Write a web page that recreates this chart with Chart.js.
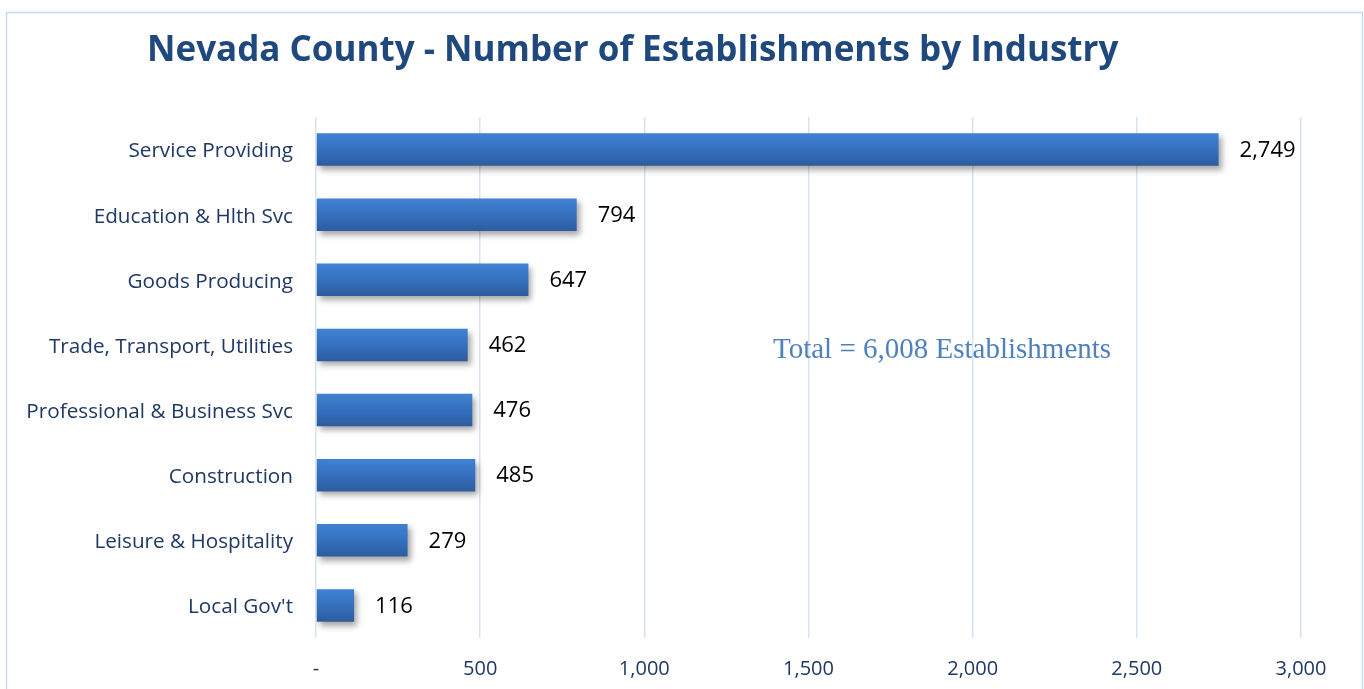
<!DOCTYPE html>
<html lang="en">
<head>
  <meta charset="UTF-8" />
  <title>Nevada County - Number of Establishments by Industry</title>
  <script src="https://cdn.jsdelivr.net/npm/chart.js"></script>
  <style>
    html, body { margin: 0; padding: 0; background: #fff; }
    #wrap { width: 1364px; height: 689px; position: relative; }
  </style>
</head>
<body>
  <div id="wrap"><canvas id="estChart" width="1364" height="689"></canvas></div>

  <script>
    // data
    const industries = [
      "Service Providing",
      "Education & Hlth Svc",
      "Goods Producing",
      "Trade, Transport, Utilities",
      "Professional & Business Svc",
      "Construction",
      "Leisure & Hospitality",
      "Local Gov't"
    ];
    const establishments = [2749, 794, 647, 462, 476, 485, 279, 116];
    const xTicks = [0, 500, 1000, 1500, 2000, 2500, 3000];

    const titleText = "Nevada County - Number of Establishments by Industry";
    const noteText = "Total = 6,008 Establishments";

    const ctx = document.getElementById("estChart").getContext("2d");

    // frame, title and note
    const decorPlugin = {
      id: "decor",
      beforeDraw(chart) {
        const c = chart.ctx;
        c.save();
        c.fillStyle = "#fff";
        c.fillRect(0, 0, chart.width, chart.height);
        c.strokeStyle = "#c9daf0";
        c.lineWidth = 1.5;
        c.strokeRect(6.5, 12.5, 1356, 700);
        c.restore();
      },
      afterDraw(chart) {
        const c = chart.ctx;
        c.save();
        c.fillStyle = "#1f497d";
        c.font = "bold 35px 'Open Sans'";
        c.textBaseline = "alphabetic";
        c.textAlign = "left";
        c.fillText(titleText, 147, 61);

        c.fillStyle = "#4f81bd";
        c.font = "29px 'Liberation Serif'";
        c.fillText(noteText, 773, 358);
        c.restore();
      }
    };

    // bar shadows
    const shadowPlugin = {
      id: "barShadow",
      beforeDatasetsDraw(chart) {
        const c = chart.ctx;
        c.save();
        c.shadowColor = "rgba(0,0,0,0.35)";
        c.shadowBlur = 6;
        c.shadowOffsetX = 3;
        c.shadowOffsetY = 4;
      },
      afterDatasetsDraw(chart) {
        chart.ctx.restore();
      }
    };

    // value labels at the end of each bar
    const valueLabels = {
      id: "valueLabels",
      afterDatasetsDraw(chart) {
        const c = chart.ctx;
        const meta = chart.getDatasetMeta(0);
        c.save();
        c.fillStyle = "#000";
        c.font = "22px 'Open Sans'";
        c.textAlign = "left";
        c.textBaseline = "middle";
        meta.data.forEach((bar, i) => {
          c.fillText(establishments[i].toLocaleString("en-US"), bar.x + 21, bar.y + 1);
        });
        c.restore();
      }
    };

    function barGradient(context) {
      const chart = context.chart;
      const area = chart.chartArea;
      const yScale = chart.scales.y;
      if (!area || !yScale) return "#3670bd";
      const y = yScale.getPixelForValue(context.dataIndex);
      const h = (area.bottom - area.top) / industries.length * 0.5;
      if (!Number.isFinite(y) || !Number.isFinite(h) || h <= 0) return "#3670bd";
      const g = chart.ctx.createLinearGradient(0, y - h / 2, 0, y + h / 2);
      g.addColorStop(0, "#4082d4");
      g.addColorStop(0.5, "#3570bf");
      g.addColorStop(1, "#2c5c9e");
      return g;
    }

    new Chart(ctx, {
      type: "bar",
      data: {
        labels: industries,
        datasets: [{
          data: establishments,
          backgroundColor: barGradient,
          borderWidth: 0,
          barPercentage: 0.5,
          categoryPercentage: 1
        }]
      },
      options: {
        indexAxis: "y",
        responsive: false,
        animation: false,
        layout: { padding: { top: 117, right: 63, left: 0, bottom: 0 } },
        plugins: {
          legend: { display: false },
          tooltip: { enabled: false },
          title: { display: false }
        },
        scales: {
          x: {
            min: 0,
            max: 3000,
            afterBuildTicks(scale) {
              scale.ticks = xTicks.map(v => ({ value: v }));
            },
            afterFit(scale) { scale.height = 51; },
            grid: { color: "#d6e3f3", lineWidth: 1.5, drawTicks: false },
            border: { display: false },
            ticks: {
              padding: 19,
              color: "#1f3864",
              font: { family: "Open Sans", size: 20 },
              callback: v => v === 0 ? "-" : v.toLocaleString("en-US")
            }
          },
          y: {
            afterFit(scale) { scale.width = 316; },
            grid: { display: false, drawTicks: false },
            border: { display: false },
            ticks: {
              padding: 23,
              labelOffset: 2,
              color: "#1f3864",
              font: { family: "Open Sans", size: 20.7 }
            }
          }
        }
      },
      plugins: [decorPlugin, shadowPlugin, valueLabels]
    });
  </script>
</body>
</html>
